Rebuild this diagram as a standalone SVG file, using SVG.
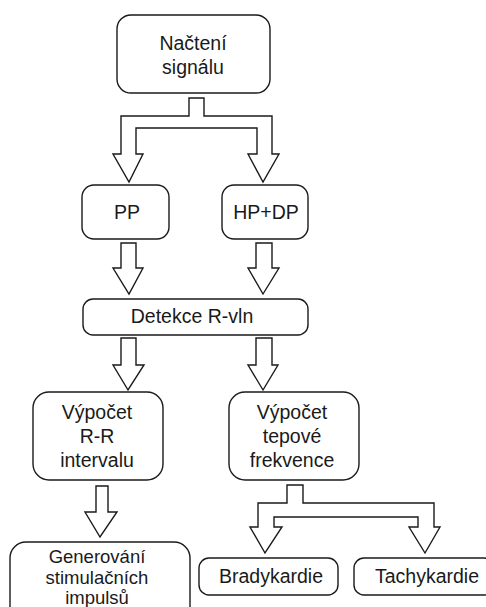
<svg xmlns="http://www.w3.org/2000/svg" width="486" height="607" viewBox="0 0 486 607">
<style>
.box{fill:#fff;stroke:#1a1a1a;stroke-width:1.4}
.arr{fill:#fff;stroke:#1a1a1a;stroke-width:1.4;stroke-linejoin:miter}
text{font-family:"Liberation Sans",Arial,sans-serif;font-size:19.5px;fill:#1a1a1a;text-anchor:middle}
.sm{font-size:18.5px}
</style>
<rect width="486" height="607" fill="#fff"/>
<g id="connectors">
<path class="arr" d="M189,98 H204 V116 H272 V154 H279 L263,182 L248,154 H257 V128 H136 V154 H143 L129,182 L113,154 H121 V116 H189 Z"/>
<path class="arr" d="M121,243 H136 V268 H143 L129,294 L113,268 H121 Z"/>
<path class="arr" d="M256,243 H272 V268 H279 L263,294 L248,268 H256 Z"/>
<path class="arr" d="M121,338 H136 V365 H144 L128,390 L113,365 H121 Z"/>
<path class="arr" d="M256,338 H272 V365 H278 L263,390 L248,365 H256 Z"/>
<path class="arr" d="M96,486 H108 V512 H117 L100,537 L85,512 H96 Z"/>
<path class="arr" d="M287,485 H303 V503 H434 V527 H440 L425,553 L409,527 H418 V517 H274 V527 H282 L265,553 L250,527 H258 V503 H287 Z"/>
</g>
<g id="nacteni">
<rect class="box" x="117" y="15" width="153" height="78" rx="14"/>
<text x="193" y="50">Načtení</text>
<text x="193" y="74">signálu</text>
</g>
<g id="pp">
<rect class="box" x="82" y="185" width="87" height="54" rx="12"/>
<text x="127" y="219">PP</text>
</g>
<g id="hpdp">
<rect class="box" x="222" y="185" width="86" height="54" rx="12"/>
<text x="266" y="219">HP+DP</text>
</g>
<g id="detekce">
<rect class="box" x="83" y="299" width="225" height="36" rx="10"/>
<text x="192" y="323">Detekce R-vln</text>
</g>
<g id="rr">
<rect class="box" x="33" y="392" width="130" height="88" rx="16"/>
<text x="97" y="419">Výpočet</text>
<text x="97" y="443">R-R</text>
<text x="97" y="467">intervalu</text>
</g>
<g id="tep">
<rect class="box" x="229" y="392" width="130" height="88" rx="16"/>
<text x="292" y="419">Výpočet</text>
<text x="292" y="443">tepové</text>
<text x="292" y="467">frekvence</text>
</g>
<g id="generovani">
<rect class="box" x="10" y="542" width="180" height="80" rx="16"/>
<text class="sm" x="97" y="563">Generování</text>
<text class="sm" x="97" y="584">stimulačních</text>
<text class="sm" x="97" y="604">impulsů</text>
</g>
<g id="bradykardie">
<rect class="box" x="199" y="558" width="139" height="37" rx="10"/>
<text x="271" y="583">Bradykardie</text>
</g>
<g id="tachykardie">
<rect class="box" x="354" y="558" width="140" height="37" rx="10"/>
<text x="427" y="583">Tachykardie</text>
</g>
</svg>
